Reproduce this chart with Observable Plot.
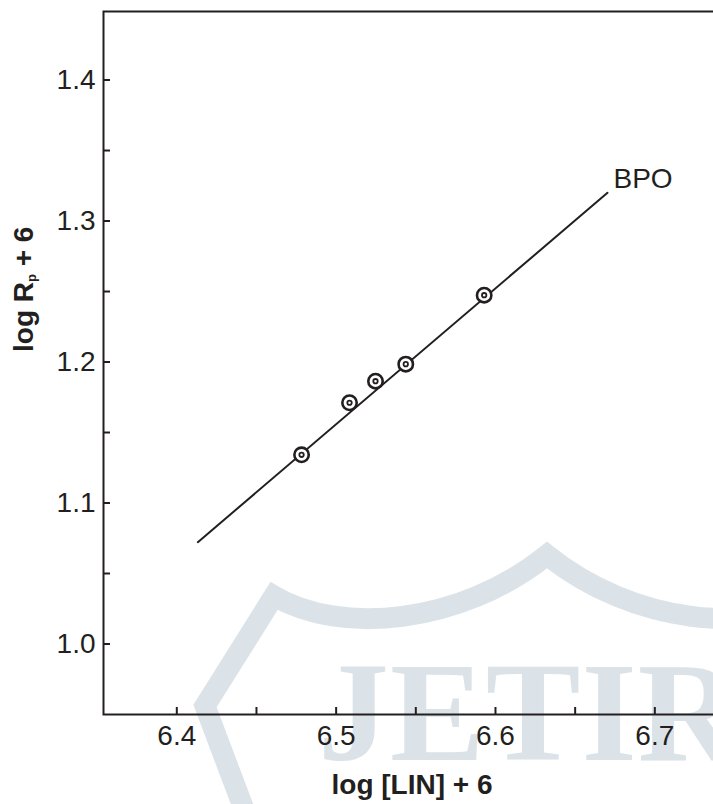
<!DOCTYPE html>
<html>
<head>
<meta charset="utf-8">
<script src="https://cdn.jsdelivr.net/npm/d3@7"></script>
<script src="https://cdn.jsdelivr.net/npm/@observablehq/plot@0.6"></script>
<style>
  html, body { margin: 0; padding: 0; background: #fff; overflow: hidden; width: 713px; height: 804px; }
  #wrap { position: relative; width: 713px; height: 804px; }
  #wm { position: absolute; left: 0; top: 0; z-index: 0; }
  #chart { position: absolute; left: 0; top: 0; z-index: 1; }
</style>
</head>
<body>
<div id="wrap">
  <svg id="wm" width="713" height="804"></svg>
  <div id="chart"></div>
</div>
<script>
// ---- data ----
const lin = [6.4783, 6.5084, 6.5247, 6.5437, 6.5929];      // log [LIN] + 6
const rp  = [1.1342, 1.1711, 1.1864, 1.1985, 1.2474];      // log Rp + 6
const fitX = [6.4132, 6.6703];                              // fitted line ends
const fitY = [1.0722, 1.3200];
const seriesName = "BPO";
const xMajorTicks = [6.4, 6.5, 6.6, 6.7];
const xAllTicks = [6.4, 6.45, 6.5, 6.55, 6.6, 6.65, 6.7];
const yMajorTicks = [1.0, 1.1, 1.2, 1.3, 1.4];
const yAllTicks = [1.0, 1.05, 1.1, 1.15, 1.2, 1.25, 1.3, 1.35, 1.4];
const xLabel = "log [LIN] + 6";
const yLabel = "log Rp + 6";
const watermarkText = "JETIR";

const ink = "#231f20";
const points = lin.map((x, i) => ({x, y: rp[i]}));
const fit = fitX.map((x, i) => ({x, y: fitY[i]}));
const tag = [{x: fitX[1], y: fitY[1], label: seriesName}];

// ---- decorative watermark (background) ----
const wm = d3.select("#wm");
const wmColor = "#dbe3e8";
wm.append("path")
  .attr("d", "M245,812 L205,706 L274,596 C340,635 460,625 547,555 C634,625 754,635 820,596 L889,706 L850,812")
  .attr("fill", "none").attr("stroke", wmColor).attr("stroke-width", 21).attr("stroke-linejoin", "miter");
wm.append("text")
  .attr("x", 318).attr("y", 760)
  .attr("font-family", "'Liberation Serif', 'Times New Roman', serif")
  .attr("font-weight", "bold").attr("font-size", 142).attr("letter-spacing", 1)
  .attr("fill", wmColor).text(watermarkText);

// ---- chart ----
const chart = Plot.plot({
  width: 736,
  height: 804,
  marginLeft: 103,
  marginRight: 2,
  marginTop: 11,
  marginBottom: 90,
  style: {background: "none", maxWidth: "none", overflow: "visible", fontFamily: "'Liberation Sans', Arial, sans-serif", fontSize: "28px", color: ink},
  x: {domain: [6.354, 6.75], label: null},
  y: {domain: [0.95, 1.4486], label: null},
  marks: [
    Plot.axisY({ticks: yMajorTicks, tickSize: 0, tickPadding: 8, tickFormat: d3.format(".1f"), label: null, fill: ink}),
    Plot.axisY({ticks: yAllTicks, tickSize: 7, dx: 7, tickFormat: () => "", label: null, stroke: ink, strokeWidth: 2, strokeOpacity: 1}),
    Plot.axisX({ticks: xMajorTicks, tickSize: 0, tickPadding: 11, tickFormat: d3.format(".1f"), label: null, fill: ink}),
    Plot.axisX({ticks: xAllTicks, tickSize: 7, dy: -7, tickFormat: () => "", label: null, stroke: ink, strokeWidth: 2, strokeOpacity: 1}),
    Plot.frame({stroke: ink, strokeWidth: 2}),
    Plot.line(fit, {x: "x", y: "y", stroke: ink, strokeWidth: 2}),
    Plot.dot(points, {x: "x", y: "y", r: 7.2, fill: "white", stroke: ink, strokeWidth: 2.6}),
    Plot.dot(points, {x: "x", y: "y", r: 2.2, fill: "white", stroke: ink, strokeWidth: 1.8}),
    Plot.text(tag, {x: "x", y: "y", text: "label", textAnchor: "start", lineAnchor: "middle", dx: 6, dy: -14, fontSize: 28, fill: ink}),
    Plot.text([xLabel], {text: d => d, frameAnchor: "bottom", lineAnchor: "top", dx: -7, dy: 60, fontSize: 28, fontWeight: "bold", fill: ink}),
    Plot.text([yLabel], {text: d => d, frameAnchor: "left", rotate: -90, dx: -79, dy: -11, fontSize: 28, fontWeight: "bold", fill: ink})
  ]
});
document.getElementById("chart").appendChild(chart);

// subscript "p" in the y label
d3.select(chart).selectAll("text").filter(function() { return this.textContent === yLabel; })
  .each(function() {
    const t = d3.select(this);
    t.text(null);
    t.append("tspan").text("log R");
    t.append("tspan").attr("font-size", 13).attr("dy", 3).text("p");
    t.append("tspan").attr("dy", -3).text(" + 6");
  });
</script>
</body>
</html>
